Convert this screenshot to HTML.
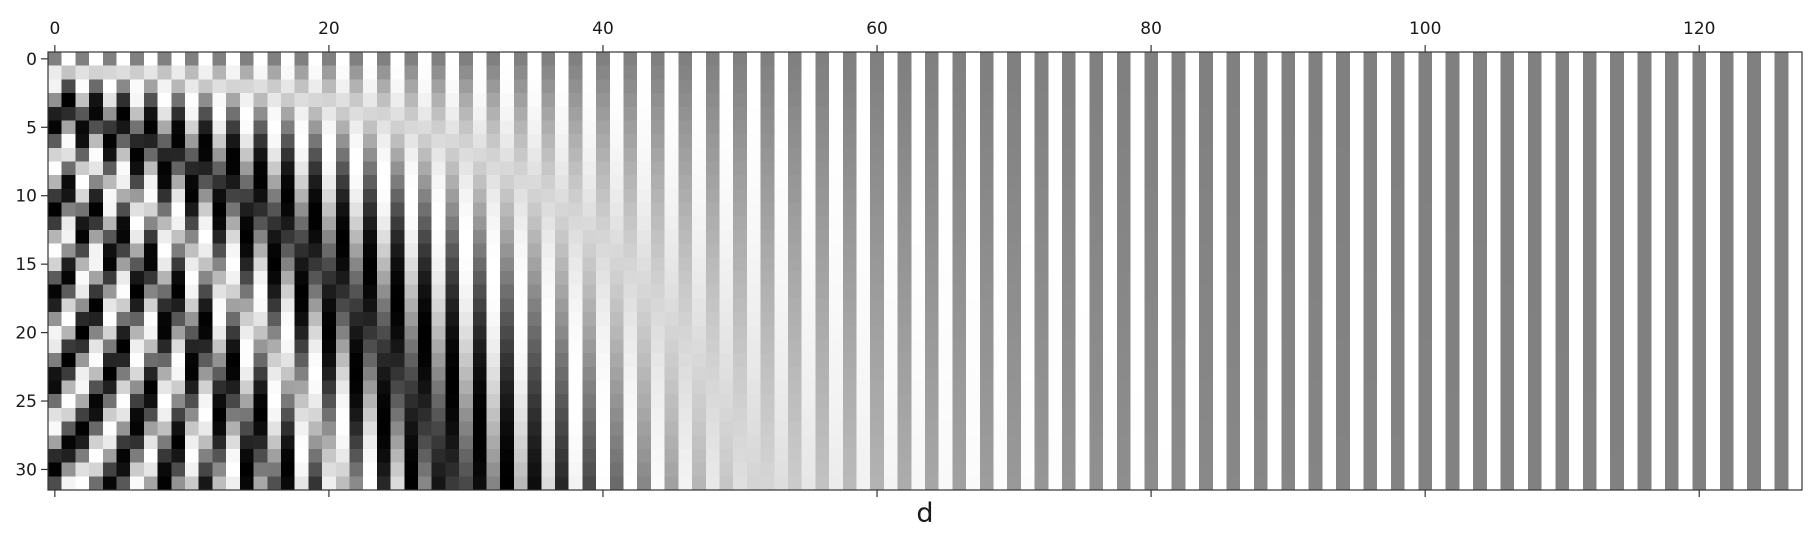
<!DOCTYPE html>
<html><head><meta charset="utf-8"><style>
html,body{margin:0;padding:0;background:#fff;}
svg text{font-family:"DejaVu Sans","Liberation Sans",sans-serif;fill:#1a1a1a;}
</style></head><body>
<svg id="chart" width="1816" height="532" viewBox="0 0 1816 532" xmlns="http://www.w3.org/2000/svg">
<g id="cells" shape-rendering="crispEdges"></g>
<rect x="48" y="52" width="1754" height="438" fill="none" stroke="#333" stroke-width="1.2"/>
<g id="axes"></g>
<text x="925" y="522" font-size="27" text-anchor="middle">d</text>
</svg>
<script>
// data
const nPositions = 32;
const dModel = 128;
const xTicks = [0, 20, 40, 60, 80, 100, 120];
const yTicks = [0, 5, 10, 15, 20, 25, 30];
const positions = Array.from({length: nPositions}, (_, i) => i);
const dims = Array.from({length: dModel}, (_, i) => i);

const L = 48, T = 52, W = 1754, H = 438;
const cw = W / dModel, ch = H / nPositions;
const xS = d => L + d * cw;
const yS = p => T + p * ch;
const NS = "http://www.w3.org/2000/svg";

function peValue(pos, i) {
  const k = Math.floor(i / 2);
  const ang = pos / Math.pow(10000, (2 * k) / dModel);
  return i % 2 === 0 ? Math.sin(ang) : Math.cos(ang);
}
function gray(v) {
  const g = Math.round((v + 1) / 2 * 255);
  return `rgb(${g},${g},${g})`;
}
const cells = document.getElementById('cells');
positions.forEach(p => {
  dims.forEach(d => {
    const r = document.createElementNS(NS, 'rect');
    
    
    r.setAttribute('x', xS(d).toFixed(2));
    r.setAttribute('y', yS(p).toFixed(2));
    r.setAttribute('width', (cw + 0.4).toFixed(2));
    r.setAttribute('height', (ch + 0.4).toFixed(2));
    r.setAttribute('fill', gray(peValue(p, d)));
    cells.appendChild(r);
  });
});

const axes = document.getElementById('axes');
xTicks.forEach(t => {
  const x = xS(t + 0.5);
  [[T - 7, T], [T + H, T + H + 7]].forEach(([a, b]) => {
    const l = document.createElementNS(NS, 'line');
    
    
    l.setAttribute('x1', x); l.setAttribute('x2', x);
    l.setAttribute('y1', a); l.setAttribute('y2', b);
    l.setAttribute('stroke', '#333'); l.setAttribute('stroke-width', '1.2');
    axes.appendChild(l);
  });
  const tx = document.createElementNS(NS, 'text');
  
  
  tx.setAttribute('x', x); tx.setAttribute('y', 34);
  tx.setAttribute('font-size', '17'); tx.setAttribute('text-anchor', 'middle');
  tx.textContent = t;
  axes.appendChild(tx);
});
yTicks.forEach(t => {
  const y = yS(t + 0.5);
  const l = document.createElementNS(NS, 'line');
  
  
  l.setAttribute('x1', L - 7); l.setAttribute('x2', L);
  l.setAttribute('y1', y); l.setAttribute('y2', y);
  l.setAttribute('stroke', '#333'); l.setAttribute('stroke-width', '1.2');
  axes.appendChild(l);
  const tx = document.createElementNS(NS, 'text');
  
  
  tx.setAttribute('x', L - 11); tx.setAttribute('y', y + 6);
  tx.setAttribute('font-size', '17'); tx.setAttribute('text-anchor', 'end');
  tx.textContent = t;
  axes.appendChild(tx);
});
</script>
</body></html>
